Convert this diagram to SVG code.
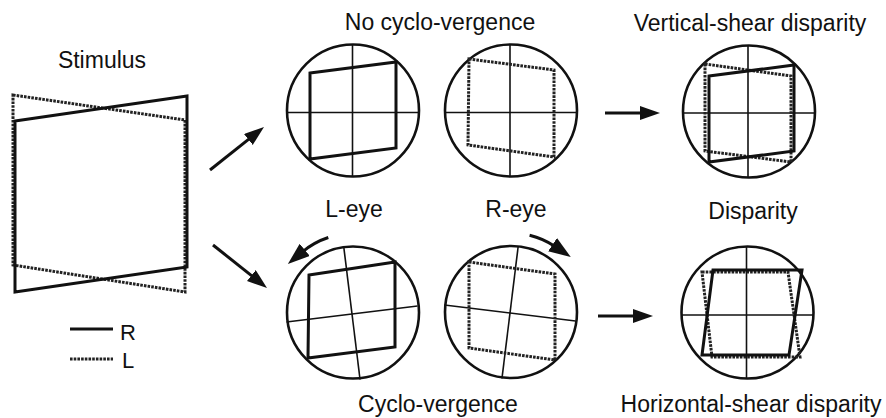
<svg xmlns="http://www.w3.org/2000/svg" width="886" height="418" viewBox="0 0 886 418">
<style>
text{font-family:"Liberation Sans",Arial,sans-serif;font-size:23px;fill:#111;text-anchor:middle}
.eye{fill:none;stroke:#111;stroke-width:2.6}
.grid{stroke:#111;stroke-width:1.6;fill:none}
.r{fill:none;stroke:#111;stroke-width:3;stroke-linejoin:miter}
.l{fill:none;stroke:#222;stroke-width:3;stroke-dasharray:2.6 1.1}
.arr{fill:none;stroke:#111;stroke-width:3}
</style>
<defs>
<marker id="ah" markerUnits="userSpaceOnUse" markerWidth="22" markerHeight="16" refX="3" refY="7" orient="auto">
<path d="M0,0 L20,7 L0,14 z" fill="#111"/>
</marker>
<marker id="ahc" markerUnits="userSpaceOnUse" markerWidth="24" markerHeight="18" refX="3" refY="8" orient="auto">
<path d="M0,0 L22,8 L0,16 z" fill="#111"/>
</marker>
</defs>
<rect width="886" height="418" fill="#fff"/>

<g id="stimulus">
<text x="102" y="68">Stimulus</text>
<polygon class="l" points="13,95 185,120 185,292 13,265"/>
<polygon class="r" points="15,121 187,96 187,267 15,292"/>
</g>

<g id="legend">
<line class="r" x1="70" y1="329" x2="113" y2="329" stroke-width="2.6"/>
<text x="120" y="340" style="text-anchor:start;font-size:22px">R</text>
<line class="l" x1="70" y1="359" x2="113" y2="359"/>
<text x="122" y="368" style="text-anchor:start;font-size:22px">L</text>
</g>

<g id="label-top">
<text x="440" y="30">No cyclo-vergence</text>
</g>

<g id="eye-L-top">
<circle class="eye" cx="353" cy="110.5" r="66"/>
<line class="grid" x1="287" y1="112.5" x2="419" y2="112.5"/>
<line class="grid" x1="352.5" y1="44.5" x2="352.5" y2="176.5"/>
<polygon class="r" points="310,73 396,62 396,148 310,159"/>
</g>

<g id="eye-R-top">
<circle class="eye" cx="511" cy="110.5" r="66"/>
<line class="grid" x1="445" y1="112.5" x2="577" y2="112.5"/>
<line class="grid" x1="510" y1="44.5" x2="510" y2="176.5"/>
<polygon class="l" points="469,59 554,70 554,157 468,145"/>
</g>

<g id="label-vshear">
<text x="750" y="31">Vertical-shear disparity</text>
</g>

<g id="disparity-top">
<circle class="eye" cx="749" cy="111.5" r="66"/>
<line class="grid" x1="683" y1="113" x2="815" y2="113"/>
<line class="grid" x1="748" y1="45.5" x2="748" y2="177.5"/>
<polygon class="l" points="705,64 791,76 791,162 705,151"/>
<polygon class="r" points="709,76 794,65 794,151 709,162"/>
</g>

<g id="label-Leye"><text x="354" y="217">L-eye</text></g>
<g id="label-Reye"><text x="516" y="217">R-eye</text></g>
<g id="label-disparity"><text x="753" y="219">Disparity</text></g>

<g id="eye-L-bottom">
<circle class="eye" cx="353" cy="312.5" r="66"/>
<g transform="rotate(-7 352 314)">
<line class="grid" x1="286" y1="314" x2="418" y2="314"/>
<line class="grid" x1="352" y1="247" x2="352" y2="380"/>
</g>
<polygon class="r" points="309,275 395,262 395,347 308,358"/>
</g>

<g id="eye-R-bottom">
<circle class="eye" cx="511" cy="312" r="66"/>
<g transform="rotate(7 510 313)">
<line class="grid" x1="444" y1="313" x2="576" y2="313"/>
<line class="grid" x1="510" y1="246" x2="510" y2="379"/>
</g>
<polygon class="l" points="469,262 555,274 555,360 469,348"/>
</g>

<g id="disparity-bottom">
<circle class="eye" cx="747.5" cy="312.5" r="66"/>
<line class="grid" x1="681.5" y1="315" x2="813.5" y2="315"/>
<line class="grid" x1="746.5" y1="246.5" x2="746.5" y2="378.5"/>
<polygon class="l" points="702,272 788,272 800,357 712,357"/>
<polygon class="r" points="713,270 802,270 789,355 702,355"/>
</g>

<g id="label-cyclo"><text x="438" y="412">Cyclo-vergence</text></g>
<g id="label-hshear"><text x="751" y="412">Horizontal-shear disparity</text></g>

<g id="connectors">
<line class="arr" x1="210" y1="170" x2="250.7" y2="137.6" marker-end="url(#ah)"/>
<line class="arr" x1="213" y1="245" x2="253.7" y2="277.4" marker-end="url(#ah)"/>
<line class="arr" x1="605" y1="113" x2="643" y2="113" marker-end="url(#ah)"/>
<line class="arr" x1="598" y1="316" x2="636" y2="316" marker-end="url(#ah)"/>
<path class="arr" d="M328.3,237.5 A79,79 0 0 0 302.5,251.8" marker-end="url(#ahc)"/>
<path class="arr" d="M529.6,235.2 A79,79 0 0 1 555,246.4" marker-end="url(#ahc)"/>
</g>
</svg>
